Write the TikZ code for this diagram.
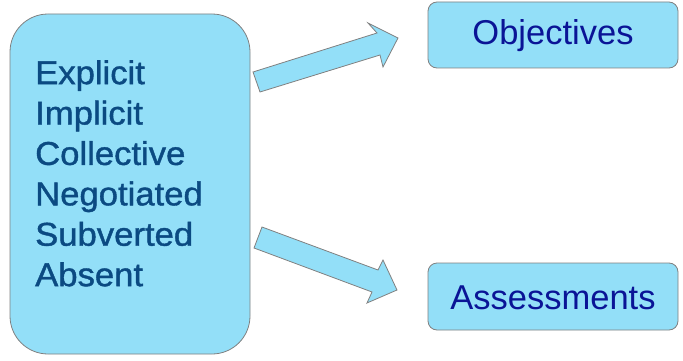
\documentclass[tikz,border=0pt]{standalone}
\usepackage{fontspec}
\setmainfont{Liberation Sans}
\newfontfamily\listfont[FakeStretch=1.05,FakeBold=1.2]{Liberation Sans}
\definecolor{boxfill}{HTML}{93DFF8}
\definecolor{boxline}{HTML}{808080}
\definecolor{lefttext}{HTML}{0B4A82}
\definecolor{righttext}{HTML}{0A1496}
\begin{document}
\begin{tikzpicture}[x=1pt,y=-1pt,
  panel/.style={draw=boxline,fill=boxfill,line width=0.8pt},
  bigbox/.style={panel,rounded corners=38pt},
  smallbox/.style={panel,rounded corners=9pt},
  blockarrow/.style={panel,line join=miter},
  lefttxt/.style={font=\listfont\fontsize{33}{40.4}\selectfont,text=lefttext,align=left,anchor=north west,inner sep=0pt},
  righttxt/.style={font=\fontsize{34.5}{40}\selectfont,text=righttext,inner sep=0pt}]
\useasboundingbox (0,0) rectangle (683,361);
% left box
\draw[bigbox] (10,14) rectangle (250,354);
\node[lefttxt] (list) at (35,60) {Explicit\\Implicit\\Collective\\Negotiated\\Subverted\\Absent};
% right boxes
\draw[smallbox] (428,2) rectangle (678,68);
\node[righttxt] (obj) at (553,36) {Objectives};
\draw[smallbox] (428,263) rectangle (678,330);
\node[righttxt] (ass) at (553,298) {Assessments};
% block arrows
\draw[blockarrow] (253,72) -- (377,33) -- (368,23) -- (398,38) -- (383,67) -- (380,55) -- (260,92) -- cycle;
\draw[blockarrow] (262,227) -- (378,270) -- (383,260) -- (397,290) -- (367,303) -- (372,292) -- (254,248) -- cycle;
\end{tikzpicture}
\end{document}
